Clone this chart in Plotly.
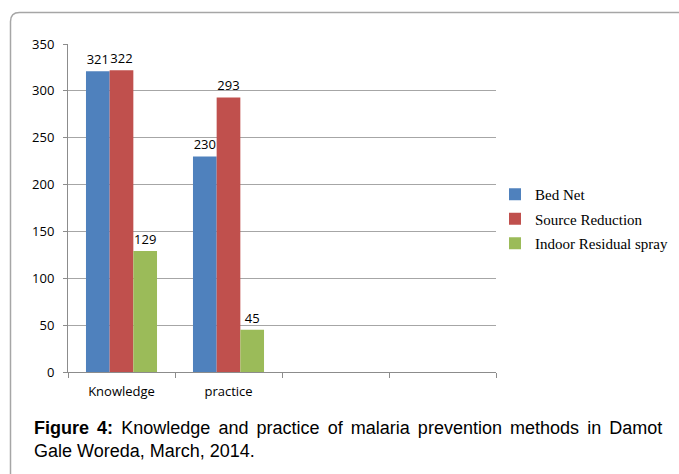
import plotly.graph_objects as go

categories = ["Knowledge", "practice"]
empty_slots = [" ", "  "]
bed_net = [321, 230]
source_reduction = [322, 293]
indoor_spray = [129, 45]
series_names = ["Bed Net", "Source Reduction", "Indoor Residual spray"]
colors = ["#4F81BD", "#C0504D", "#9BBB59"]
y_ticks = [0, 50, 100, 150, 200, 250, 300, 350]

W, H = 679, 474
L, R, T, B = 68, 183, 44, 102
pw, ph = W - L - R, H - T - B

def px_x(x):
    return (x - L) / pw

def px_y(y):
    return (H - B - y) / ph

fig = go.Figure()
for name, vals, col in zip(series_names, [bed_net, source_reduction, indoor_spray], colors):
    fig.add_trace(go.Bar(
        x=categories, y=vals, name=name, marker=dict(color=col, line=dict(width=0)),
        text=vals, textposition="outside", cliponaxis=False, constraintext="none",
        textfont=dict(family="Open Sans", size=13, color="#000000"),
        legendgroup=name,
    ))

label_font = dict(family="Open Sans", size=13, color="#000000")

# rounded border (top-left corner visible)
r = 9
bx0, by0 = 10.5, 12.5
path = (f"M {px_x(bx0)},{px_y(H + 20)} L {px_x(bx0)},{px_y(by0 + r)} "
        f"Q {px_x(bx0)},{px_y(by0)} {px_x(bx0 + r)},{px_y(by0)} L {px_x(W + 20)},{px_y(by0)}")

fig.update_layout(
    width=W, height=H,
    margin=dict(l=L, r=R, t=T, b=B, pad=0, autoexpand=False),
    paper_bgcolor="white", plot_bgcolor="white",
    barmode="group", bargap=0.336, bargroupgap=0,
    showlegend=True,
    legend=dict(
        x=px_x(495), y=px_y(178), xanchor="left", yanchor="top",
        font=dict(family="Liberation Serif", size=15, color="#000000"),
        tracegroupgap=2, bgcolor="rgba(0,0,0,0)",
    ),
    xaxis=dict(
        type="category", categoryorder="array", categoryarray=categories + empty_slots,
        range=[-0.5, 3.5], tickson="boundaries", ticks="outside", ticklen=5,
        tickcolor="#8c8c8c", showline=True, linecolor="#8c8c8c", linewidth=1,
        showgrid=False, tickfont=label_font, ticklabelstandoff=7,
    ),
    yaxis=dict(
        range=[0, 350], tickvals=y_ticks, ticks="outside", ticklen=4,
        tickcolor="#8c8c8c", showline=True, linecolor="#8c8c8c", linewidth=1,
        showgrid=True, gridcolor="#a6a6a6", gridwidth=1, zeroline=False,
        tickfont=label_font, ticklabelstandoff=6,
    ),
    shapes=[dict(type="path", xref="paper", yref="paper", path=path,
                 line=dict(color="#a6a6a6", width=1.5))],
    annotations=[dict(
        xref="paper", yref="paper", x=px_x(32), y=px_y(416), xanchor="left", yanchor="top",
        align="left", showarrow=False,
        text=("<span style=\"word-spacing:3.1px\"><b>Figure 4:</b> Knowledge and practice of malaria "
              "prevention methods in Damot</span><br>Gale Woreda, March, 2014."),
        font=dict(family="Liberation Sans", size=18, color="#000000"),
    )],
)

fig.write_html("out.html")
